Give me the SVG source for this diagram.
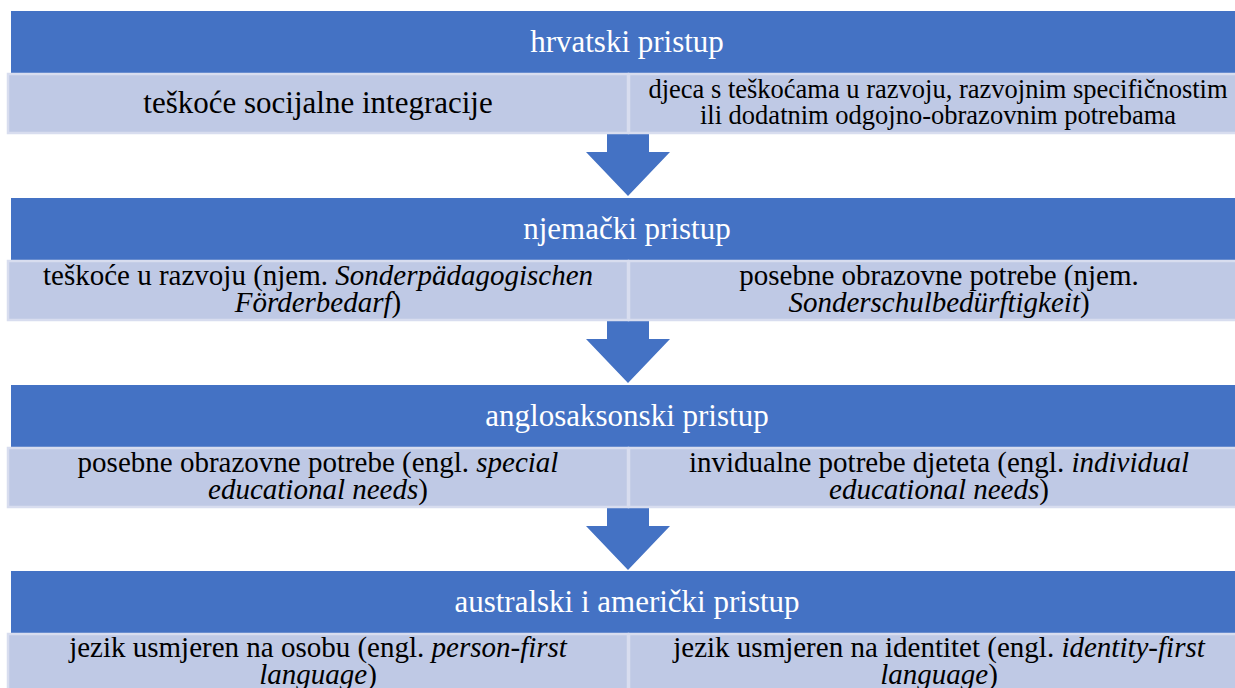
<svg xmlns="http://www.w3.org/2000/svg" width="1235" height="688" viewBox="0 0 1235 688">
<style>
.bar{fill:#4472C4}
.cell{fill:#BFC9E5;stroke:#D8DDEF;stroke-width:2.5}
.arrow{fill:#4472C4}
text{font-family:'Liberation Serif','Times New Roman',serif;text-anchor:middle}
.title{fill:#FFFFFF;font-size:31px}
.big{fill:#000000;font-size:31px}
.mid{fill:#000000;font-size:29px}
.small{fill:#000000;font-size:26.5px}
.i{font-style:italic}
</style>
<rect width="1235" height="688" fill="#FFFFFF"/>
<g id="connectors">
<path class="arrow" d="M607,133 H649 V152 H670 L628,196 L586,152 H607 Z"/>
<path class="arrow" d="M607,320 H649 V339 H670 L628,383 L586,339 H607 Z"/>
<path class="arrow" d="M607,507 H649 V526 H670 L628,570 L586,526 H607 Z"/>
</g>
<g id="node-hrvatski">
<rect class="bar" x="11" y="11" width="1234" height="62"/>
<text class="title" font-family="Liberation Serif, serif" x="627" y="52">hrvatski pristup</text>
<rect class="cell" x="8" y="74" width="620" height="59"/>
<text class="big" font-family="Liberation Serif, serif" x="318" y="113">teškoće socijalne integracije</text>
<rect class="cell" x="629" y="74" width="620" height="59"/>
<text class="small" font-family="Liberation Serif, serif" x="938" y="98">djeca s teškoćama u razvoju, razvojnim specifičnostim</text>
<text class="small" font-family="Liberation Serif, serif" x="938" y="124">ili dodatnim odgojno-obrazovnim potrebama</text>
</g>
<g id="node-njemacki">
<rect class="bar" x="11" y="198" width="1234" height="62"/>
<text class="title" font-family="Liberation Serif, serif" x="627" y="239">njemački pristup</text>
<rect class="cell" x="8" y="261" width="620" height="59"/>
<text class="mid" font-family="Liberation Serif, serif" x="318" y="285">teškoće u razvoju (njem. <tspan class="i">Sonderpädagogischen</tspan></text>
<text class="mid" font-family="Liberation Serif, serif" x="318" y="312"><tspan class="i">Förderbedarf</tspan>)</text>
<rect class="cell" x="629" y="261" width="620" height="59"/>
<text class="mid" font-family="Liberation Serif, serif" x="939" y="285">posebne obrazovne potrebe (njem.</text>
<text class="mid" font-family="Liberation Serif, serif" x="939" y="312"><tspan class="i">Sonderschulbedürftigkeit</tspan>)</text>
</g>
<g id="node-anglosaksonski">
<rect class="bar" x="11" y="385" width="1234" height="62"/>
<text class="title" font-family="Liberation Serif, serif" x="627" y="426">anglosaksonski pristup</text>
<rect class="cell" x="8" y="448" width="620" height="59"/>
<text class="mid" font-family="Liberation Serif, serif" x="318" y="472">posebne obrazovne potrebe (engl. <tspan class="i">special</tspan></text>
<text class="mid" font-family="Liberation Serif, serif" x="318" y="499"><tspan class="i">educational needs</tspan>)</text>
<rect class="cell" x="629" y="448" width="620" height="59"/>
<text class="mid" font-family="Liberation Serif, serif" x="939" y="472">invidualne potrebe djeteta (engl. <tspan class="i">individual</tspan></text>
<text class="mid" font-family="Liberation Serif, serif" x="939" y="499"><tspan class="i">educational needs</tspan>)</text>
</g>
<g id="node-australski">
<rect class="bar" x="11" y="571" width="1234" height="62"/>
<text class="title" font-family="Liberation Serif, serif" x="627" y="612">australski i američki pristup</text>
<rect class="cell" x="8" y="634" width="620" height="60"/>
<text class="mid" font-family="Liberation Serif, serif" x="318" y="657">jezik usmjeren na osobu (engl. <tspan class="i">person-first</tspan></text>
<text class="mid" font-family="Liberation Serif, serif" x="318" y="684"><tspan class="i">language</tspan>)</text>
<rect class="cell" x="629" y="634" width="620" height="60"/>
<text class="mid" font-family="Liberation Serif, serif" x="939" y="657">jezik usmjeren na identitet (engl. <tspan class="i">identity-first</tspan></text>
<text class="mid" font-family="Liberation Serif, serif" x="939" y="684"><tspan class="i">language</tspan>)</text>
</g>
</svg>
